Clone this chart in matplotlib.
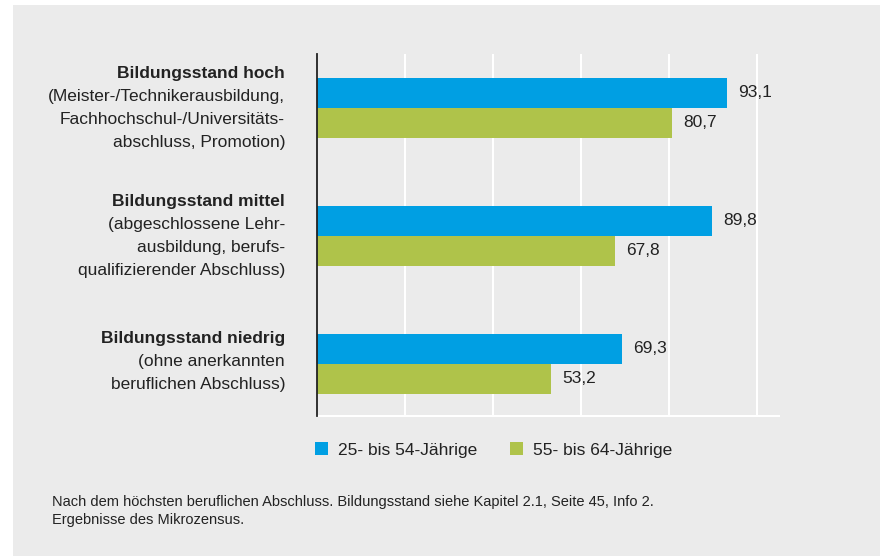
import matplotlib
matplotlib.use("Agg")
import matplotlib.pyplot as plt
from matplotlib.patches import Patch, Rectangle
import numpy as np

# Daten
titel = ["Bildungsstand hoch", "Bildungsstand mittel", "Bildungsstand niedrig"]
beschreibung = [
    ["(Meister-/Technikerausbildung,", "Fachhochschul-/Universitäts-", "abschluss, Promotion)"],
    ["(abgeschlossene Lehr-", "ausbildung, berufs-", "qualifizierender Abschluss)"],
    ["(ohne anerkannten", "beruflichen Abschluss)"],
]
werte_25_54 = [93.1, 89.8, 69.3]
werte_55_64 = [80.7, 67.8, 53.2]
serien = ["25- bis 54-Jährige", "55- bis 64-Jährige"]
fussnote = ("Nach dem höchsten beruflichen Abschluss. Bildungsstand siehe Kapitel 2.1, Seite 45, Info 2.\n"
            "Ergebnisse des Mikrozensus.")

blau = "#009fe3"
gruen = "#afc34a"
grau = "#ebebeb"
textfarbe = "#222222"
fs = 12.5

plt.rcParams["font.family"] = ["Liberation Sans", "DejaVu Sans"]

W, H = 880, 556
fig = plt.figure(figsize=(W / 100, H / 100), dpi=100)
fig.patch.set_facecolor("white")
fig.patches.append(Rectangle((13 / W, 0), 1 - 13 / W, 1 - 5 / H, transform=fig.transFigure,
                             facecolor=grau, edgecolor="none", zorder=-5))

# Achse in Pixelkoordinaten
links, rechts, oben, unten = 317, 779, 54, 416
ax = fig.add_axes([links / W, 1 - unten / H, (rechts - links) / W, (unten - oben) / H])
ax.set_facecolor("none")
ax.set_zorder(2)

y = np.arange(len(titel))
h = 30 / 128
ax.barh(y - h / 2, werte_25_54, height=h, color=blau, zorder=3)
ax.barh(y + h / 2, werte_55_64, height=h, color=gruen, zorder=3)
ax.set_xlim(0, 105)
ax.set_ylim(2.41, -0.418)

for i in range(len(titel)):
    for v, yy in [(werte_25_54[i], y[i] - h / 2), (werte_55_64[i], y[i] + h / 2)]:
        ax.annotate(f"{v:.1f}".replace(".", ","), (v, yy), xytext=(8, 0), textcoords="offset points",
                    va="center", ha="left", fontsize=fs, color=textfarbe)

# Kategorienbeschriftung links
for i in range(len(titel)):
    zeilen = [titel[i]] + beschreibung[i]
    n = len(zeilen)
    for j, z in enumerate(zeilen):
        off = -(j - (n - 1) / 2) * 23 * 0.72
        if n == 3:
            off += 2 * 0.72
        ax.annotate(z, (0, y[i]), xycoords=("axes fraction", "data"),
                    xytext=(-32 * 0.72, off), textcoords="offset points",
                    ha="right", va="center", fontsize=fs, color=textfarbe,
                    fontweight="bold" if j == 0 else "normal")

ax.set_xticks([20, 40, 60, 80, 100])
ax.set_yticks([])
ax.tick_params(axis="x", length=0, labelbottom=False)
ax.grid(axis="x", color="white", linewidth=1.5, zorder=1)
for s in ["top", "right"]:
    ax.spines[s].set_visible(False)
ax.spines["bottom"].set_color("white")
ax.spines["bottom"].set_linewidth(1.5)
ax.spines["left"].set_color("#222222")
ax.spines["left"].set_linewidth(1.3)
ax.spines["left"].set_zorder(4)

handles = [Patch(facecolor=blau, edgecolor="none"), Patch(facecolor=gruen, edgecolor="none")]
leg = fig.legend(handles, serien, loc="center left", bbox_to_anchor=(315 / W, 1 - 450 / H),
                 ncol=2, frameon=False, fontsize=fs, handlelength=0.75, handleheight=0.75,
                 handletextpad=0.6, columnspacing=1.85, borderaxespad=0, borderpad=0)
for t in leg.get_texts():
    t.set_color(textfarbe)

fig.text(52 / W, 1 - 511 / H, fussnote, fontsize=10.5, color=textfarbe, ha="left", va="center",
         linespacing=1.3)

fig.savefig("out.png", dpi=100, facecolor=fig.get_facecolor())
